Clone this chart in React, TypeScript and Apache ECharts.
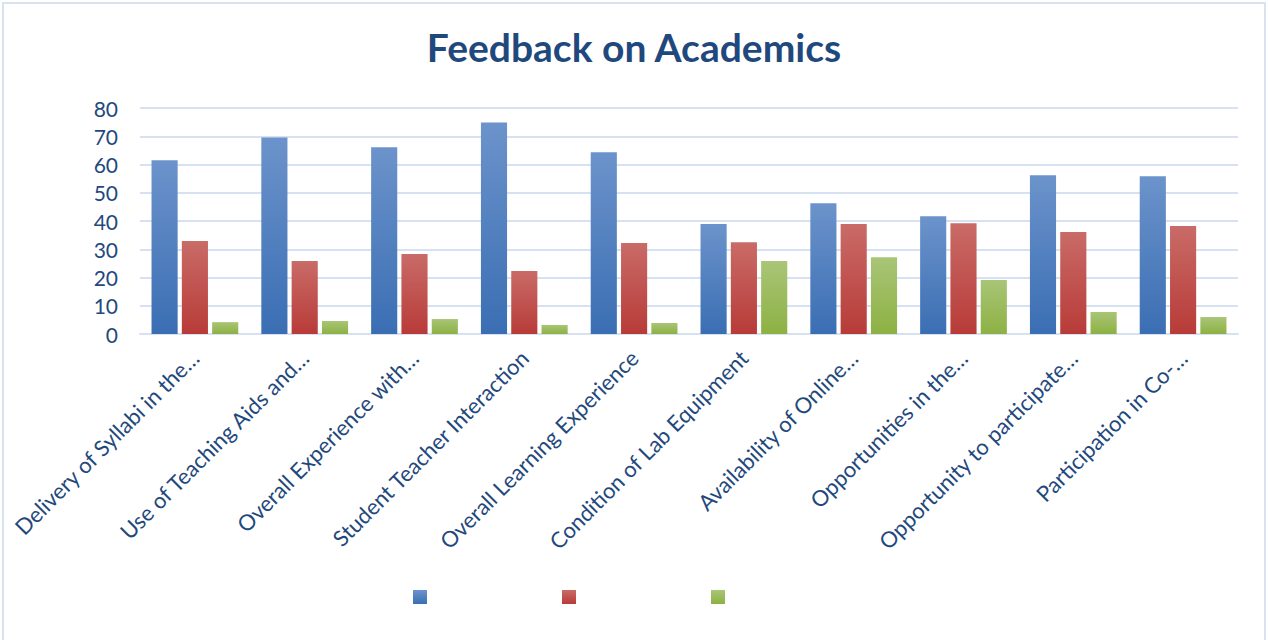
import React, { useEffect, useRef } from "react";
import * as echarts from "echarts";

const categories = [
  "Delivery of Syllabi in the…",
  "Use of Teaching Aids and…",
  "Overall Experience with…",
  "Student Teacher Interaction",
  "Overall Learning Experience",
  "Condition of Lab Equipment",
  "Availability of Online…",
  "Opportunities in the…",
  "Opportunity to participate…",
  "Participation in Co-…",
];
const seriesNames = ["Series 1", "Series 2", "Series 3"];
const blueValues = [61.5, 69.6, 66.1, 74.9, 64.3, 38.9, 46.3, 41.7, 56.2, 55.8];
const redValues = [32.9, 25.8, 28.3, 22.3, 32.2, 32.5, 38.9, 39.2, 36.1, 38.2];
const greenValues = [4.2, 4.6, 5.3, 3.2, 3.9, 25.8, 27.2, 19.1, 7.8, 6.0];
const yTicks = { min: 0, max: 80, interval: 10 };

const grad = (top: string, bottom: string) =>
  new echarts.graphic.LinearGradient(0, 0, 0, 1, [
    { offset: 0, color: top },
    { offset: 1, color: bottom },
  ]);

export default function App() {
  const ref = useRef<HTMLDivElement>(null);
  useEffect(() => {
    if (!ref.current) return;
    const chart = echarts.init(ref.current, undefined, { renderer: "svg" });
    const navy = "#1F497D";
    const font = "Lato";
    const colors = [
      grad("#6C93CB", "#3A6EB3"),
      grad("#C96B67", "#B83B38"),
      grad("#A9C577", "#8DB143"),
    ];
    const values = [blueValues, redValues, greenValues];
    const legendLefts = [413, 562, 711];
    chart.setOption({
      animation: false,
      backgroundColor: "#FFFFFF",
      title: {
        text: "Feedback on Academics",
        left: "center",
        top: 22,
        textStyle: { color: navy, fontFamily: font, fontSize: 39, fontWeight: "bold" },
      },
      legend: seriesNames.map((n, i) => ({
        data: [n],
        left: legendLefts[i],
        top: 590,
        icon: "rect",
        itemWidth: 14,
        itemHeight: 14,
        formatter: () => "",
        selectedMode: false,
        padding: 0,
      })),
      grid: { left: 140, right: 30, top: 108, bottom: 306, containLabel: false },
      xAxis: {
        type: "category",
        data: categories,
        axisLine: { show: true, lineStyle: { color: "#D6E2F2", width: 2 } },
        axisTick: { show: false },
        axisLabel: {
          interval: 0,
          rotate: 45,
          margin: 20,
          color: navy,
          fontFamily: font,
          fontSize: 22,
        },
      },
      yAxis: {
        type: "value",
        min: yTicks.min,
        max: yTicks.max,
        interval: yTicks.interval,
        axisLine: { show: false },
        axisTick: { show: false },
        splitLine: { lineStyle: { color: "#D6E2F2", width: 2 } },
        axisLabel: { color: navy, fontFamily: font, fontSize: 21, margin: 22 },
      },
      series: seriesNames.map((n, i) => ({
        name: n,
        type: "bar",
        data: values[i],
        barGap: "16%",
        barCategoryGap: "21%",
        itemStyle: { color: colors[i] },
      })),
      graphic: [
        {
          type: "rect",
          shape: { x: 3, y: 3, width: 1262, height: 645 },
          style: { fill: "none", stroke: "#D9E3EF", lineWidth: 2 },
          silent: true,
        },
      ],
    });
    return () => chart.dispose();
  }, []);
  return (
    <div
      ref={ref}
      style={{ position: "fixed", left: 0, top: 0, width: 1268, height: 640 }}
    />
  );
}
